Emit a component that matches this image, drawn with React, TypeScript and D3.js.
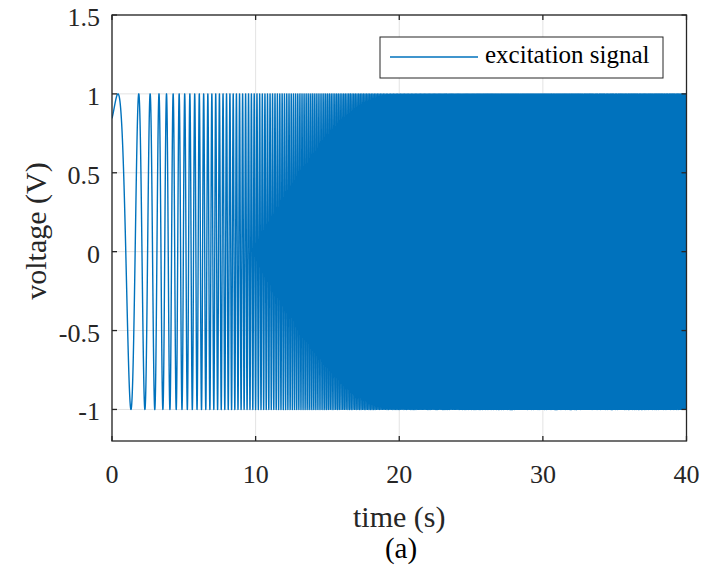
import React, { useMemo } from "react";
import * as d3 from "d3";

// Axis ranges and ticks
const X_DOMAIN: [number, number] = [0, 40];
const Y_DOMAIN: [number, number] = [-1.2, 1.5];
const X_TICKS = [0, 10, 20, 30, 40];
const Y_TICKS = [-1, -0.5, 0, 0.5, 1, 1.5];

// Linear chirp excitation: amplitude, start frequency (Hz), sweep rate (Hz/s), initial phase (cycles)
const AMPLITUDE = 1;
const F_START = 0.11;
const SWEEP_RATE = 0.51;
const PHASE0_CYCLES = 0.16;
const SAMPLE_RATE = 1000; // samples per second
const DURATION = 40;

const LEGEND_LABEL = "excitation signal";
const X_LABEL = "time (s)";
const Y_LABEL = "voltage (V)";
const CAPTION = "(a)";

const W = 703;
const H = 571;
const M = { left: 112, right: 686.5, top: 15, bottom: 441 };
const FONT = "Liberation Serif, Times New Roman, serif";
const AXIS_COLOR = "#262626";
const GRID_COLOR = "#e3e3e3";
const LINE_COLOR = "#0072BD";

function buildSignal(): [number, number][] {
  const n = Math.round(DURATION * SAMPLE_RATE);
  const pts: [number, number][] = new Array(n + 1);
  for (let i = 0; i <= n; i++) {
    const t = i / SAMPLE_RATE;
    const cycles = PHASE0_CYCLES + F_START * t + 0.5 * SWEEP_RATE * t * t;
    pts[i] = [t, AMPLITUDE * Math.sin(2 * Math.PI * cycles)];
  }
  return pts;
}

export default function App() {
  const x = d3.scaleLinear().domain(X_DOMAIN).range([M.left, M.right]);
  const y = d3.scaleLinear().domain(Y_DOMAIN).range([M.bottom, M.top]);

  const pathD = useMemo(() => {
    const data = buildSignal();
    const line = d3
      .line<[number, number]>()
      .x((d) => x(d[0]))
      .y((d) => y(d[1]));
    return line(data) || "";
  }, []);

  const tickLen = 5;
  const textStyle = { fontFamily: FONT };

  return (
    <svg
      width={W}
      height={H}
      style={{ position: "absolute", left: 0, top: 0, background: "#fff", fontFamily: FONT }}
    >
      <defs>
        <clipPath id="plotClip">
          <rect x={M.left} y={M.top} width={M.right - M.left} height={M.bottom - M.top} />
        </clipPath>
      </defs>
      <rect x={0} y={0} width={W} height={H} fill="#fff" />

      {/* grid */}
      {X_TICKS.map((t) => (
        <line key={"gx" + t} x1={x(t)} x2={x(t)} y1={M.top} y2={M.bottom} stroke={GRID_COLOR} strokeWidth={1} />
      ))}
      {Y_TICKS.map((t) => (
        <line key={"gy" + t} x1={M.left} x2={M.right} y1={y(t)} y2={y(t)} stroke={GRID_COLOR} strokeWidth={1} />
      ))}

      {/* signal */}
      <path
        d={pathD}
        fill="none"
        stroke={LINE_COLOR}
        strokeWidth={1.4}
        strokeLinejoin="round"
        clipPath="url(#plotClip)"
      />

      {/* axes box */}
      <rect
        x={M.left}
        y={M.top}
        width={M.right - M.left}
        height={M.bottom - M.top}
        fill="none"
        stroke={AXIS_COLOR}
        strokeWidth={1.3}
      />

      {/* ticks */}
      {X_TICKS.map((t) => (
        <g key={"tx" + t}>
          <line x1={x(t)} x2={x(t)} y1={M.bottom} y2={M.bottom - tickLen} stroke={AXIS_COLOR} strokeWidth={1.3} />
          <line x1={x(t)} x2={x(t)} y1={M.top} y2={M.top + tickLen} stroke={AXIS_COLOR} strokeWidth={1.3} />
          <text x={x(t)} y={483} textAnchor="middle" fontSize={26} fill={AXIS_COLOR} style={textStyle}>
            {t}
          </text>
        </g>
      ))}
      {Y_TICKS.map((t) => (
        <g key={"ty" + t}>
          <line x1={M.left} x2={M.left + tickLen} y1={y(t)} y2={y(t)} stroke={AXIS_COLOR} strokeWidth={1.3} />
          <line x1={M.right} x2={M.right - tickLen} y1={y(t)} y2={y(t)} stroke={AXIS_COLOR} strokeWidth={1.3} />
          <text x={100} y={y(t) + 11} textAnchor="end" fontSize={26} fill={AXIS_COLOR} style={textStyle}>
            {t}
          </text>
        </g>
      ))}

      {/* axis labels */}
      <text x={(M.left + M.right) / 2} y={527} textAnchor="middle" fontSize={30} fill={AXIS_COLOR} style={textStyle}>
        {X_LABEL}
      </text>
      <text
        transform={`translate(46, ${(M.top + M.bottom) / 2 + 3}) rotate(-90)`}
        textAnchor="middle"
        fontSize={30}
        fill={AXIS_COLOR}
        style={textStyle}
      >
        {Y_LABEL}
      </text>
      <text x={401} y={558} textAnchor="middle" fontSize={29} fill="#000" style={textStyle}>
        {CAPTION}
      </text>

      {/* legend */}
      <g>
        <rect x={380} y={37} width={283} height={41} fill="#fff" stroke={AXIS_COLOR} strokeWidth={1} />
        <line x1={390} x2={478} y1={57} y2={57} stroke={LINE_COLOR} strokeWidth={1.4} />
        <text x={485} y={63} fontSize={25} fill="#000" style={textStyle}>
          {LEGEND_LABEL}
        </text>
      </g>
    </svg>
  );
}
